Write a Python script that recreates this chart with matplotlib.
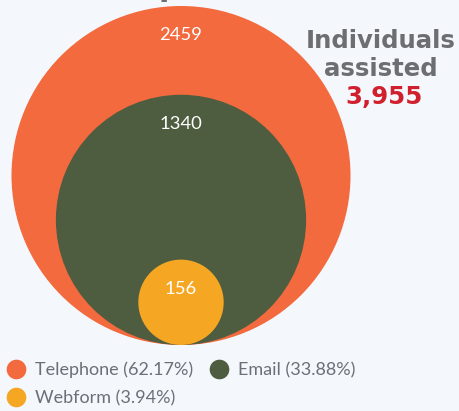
import matplotlib.pyplot as plt
from matplotlib.patches import Circle

# ==========================
# Data
# ==========================

channels = ["Telephone", "Email", "Webform"]
counts = [2459, 1340, 156]
colors = ["#f26a3d", "#4e5d40", "#f5a623"]

total = sum(counts)
shares = [c / total * 100 for c in counts]

bg = "#f4f7fb"
grey = "#6d6e71"
red = "#d0202e"

# ==========================
# Figure (pixel coords)
# ==========================

W, H = 459, 411
fig = plt.figure(figsize=(W / 100, H / 100), dpi=100, facecolor=bg)
ax = fig.add_axes([0, 0, 1, 1])
ax.set_xlim(0, W)
ax.set_ylim(H, 0)
ax.set_aspect("equal")
ax.axis("off")
ax.set_facecolor(bg)

# nested circles, area ~ value, all sitting on one baseline
cx, base = 181, 345
k = 169.5 / 2459 ** 0.5

for name, val, col in zip(channels, counts, colors):
    r = k * val ** 0.5
    ax.add_patch(Circle((cx, base - r), r, color=col, lw=0))
    ax.text(cx, base - 2 * r + 34, str(val), color="white",
            fontsize=13.3, family="Lato", ha="center", va="baseline")

# cut-off title descender at the top
ax.text(169, -4, "p", color=grey, fontsize=22, fontweight="bold",
        ha="center", va="baseline")

# side annotation
ax.text(381, 48, "Individuals", color=grey, fontsize=17.6,
        fontweight="bold", ha="center", va="baseline")
ax.text(381, 76, "assisted", color=grey, fontsize=17.6,
        fontweight="bold", ha="center", va="baseline")
ax.text(384, 104, f"{total:,}", color=red, fontsize=17.6,
        fontweight="bold", ha="center", va="baseline")

# ==========================
# Legend
# ==========================

leg_pos = [(16, 369), (219, 369), (16, 397)]
for (x, y), name, pct, col in zip(leg_pos, channels, shares, colors):
    ax.scatter([x], [y], s=200, color=col, lw=0)
    ax.text(x + 19, y + 1, f"{name} ({pct:.2f}%)", color="#6b7078",
            fontsize=13, family="Lato", ha="left", va="center")

fig.savefig("out.png", dpi=100, facecolor=bg)
